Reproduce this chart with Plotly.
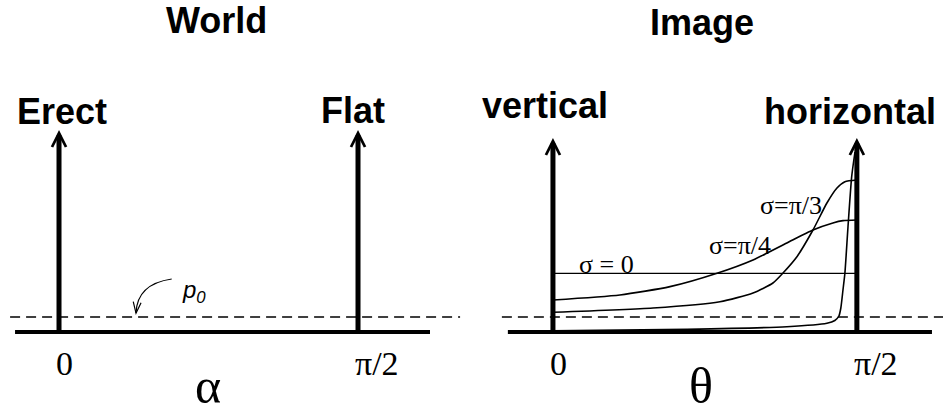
import numpy as np
import plotly.graph_objects as go

# figure size in px
W, H = 943, 409
HALF = np.pi / 2

# ---- data ----
p0 = 0.15  # prior density level (dashed line)

theta_s0 = [0.0, HALF]
dens_s0 = [0.587, 0.587]

theta_s45 = [0.0, 0.346, 0.605, 0.848, 1.034, 1.209, 1.344, 1.447, 1.499, 1.571]
dens_s45 = [0.32, 0.37, 0.453, 0.587, 0.72, 0.89, 1.02, 1.09, 1.113, 1.12]

theta_s60 = [0.0, 0.517, 0.863, 1.034, 1.137, 1.189, 1.261, 1.344, 1.416, 1.468, 1.509, 1.571]
dens_s60 = [0.197, 0.24, 0.303, 0.39, 0.49, 0.59, 0.753, 1.02, 1.29, 1.44, 1.503, 1.52]

theta_steep = [0.0, 0.693, 1.209, 1.416, 1.457, 1.478, 1.488, 1.499, 1.509, 1.525, 1.544, 1.561]
dens_steep = [0.013, 0.027, 0.053, 0.087, 0.115, 0.16, 0.24, 0.42, 0.59, 1.053, 1.553, 1.80]

tick_vals = [0.0, HALF]
tick_text = ["0", "\u03c0/2"]

# axis ranges chosen so the diagrams land where they sit in the picture
yr = [-0.77, 3.32]
xr_left = [-0.310, 2.167]
xr_right = [-0.421, 2.016]

fig = go.Figure()

# dashed p0 lines in both panels
fig.add_trace(go.Scatter(x=[-0.257, 2.107], y=[p0, p0], mode="lines",
                         line=dict(color="black", width=1.4, dash="10px,6px"),
                         xaxis="x", yaxis="y", hoverinfo="skip"))
fig.add_trace(go.Scatter(x=[-0.264, 2.02], y=[p0, p0], mode="lines",
                         line=dict(color="black", width=1.4, dash="10px,6px"),
                         xaxis="x2", yaxis="y", hoverinfo="skip"))

# image-side densities
for th, d, w in [(theta_s0, dens_s0, 1.3), (theta_s45, dens_s45, 1.7),
                 (theta_s60, dens_s60, 1.6), (theta_steep, dens_steep, 1.6)]:
    fig.add_trace(go.Scatter(x=th, y=d, mode="lines",
                             line=dict(color="black", width=w, shape="spline", smoothing=0.6),
                             xaxis="x2", yaxis="y", hoverinfo="skip"))

# baselines
fig.add_shape(type="line", xref="x", yref="y", x0=-0.231, x1=1.949, y0=0, y1=0,
              line=dict(color="black", width=4))
fig.add_shape(type="line", xref="x2", yref="y", x0=-0.233, x1=1.959, y0=0, y1=0,
              line=dict(color="black", width=4))

# curved pointer to p0
fig.add_shape(type="path", xref="x", yref="y",
              path="M 0.592,0.53 Q 0.41,0.48 0.4045,0.19",
              line=dict(color="black", width=1.2))
fig.add_shape(type="path", xref="x", yref="y",
              path="M 0.390,0.303 L 0.4045,0.187 L 0.431,0.293",
              line=dict(color="black", width=1.2))

ann = []
# vertical arrows (the spikes / axes)
for xa, xv, top in [("x", 0.0, 2.02), ("x", HALF, 2.02), ("x2", 0.0, 1.94), ("x2", HALF, 1.94)]:
    ann.append(dict(xref=xa, yref="y", axref=xa, ayref="y", x=xv, y=top, ax=xv, ay=-0.03,
                    text="", showarrow=True, arrowhead=5, arrowsize=0.55, arrowwidth=5,
                    arrowcolor="black"))

bold = dict(family="Liberation Sans", size=36, color="black")
def ptxt(text, px, py, font, **kw):
    ann.append(dict(xref="paper", yref="paper", x=px / W, y=1 - py / H, text=text,
                    showarrow=False, font=font, xanchor=kw.pop("xanchor", "center"),
                    yanchor="middle", **kw))

ptxt("<b>World</b>", 216, 21, bold)
ptxt("<b>Image</b>", 702, 22, bold)
ptxt("<b>Erect</b>", 62, 112, bold)
ptxt("<b>Flat</b>", 353, 110, bold)
ptxt("<b>vertical</b>", 545, 106, bold)
ptxt("<b>horizontal</b>", 850, 112, bold)

serif = dict(family="Liberation Serif", size=34, color="black")
for xa, xv, t in [("x", tick_vals[0], tick_text[0]), ("x", tick_vals[1], tick_text[1]),
                  ("x2", tick_vals[0], tick_text[0]), ("x2", tick_vals[1], tick_text[1])]:
    ann.append(dict(xref=xa, yref="y", x=xv, y=-0.31, text=t, showarrow=False,
                    font=serif, xanchor="left", yanchor="middle", xshift=-5))

big = dict(family="Liberation Serif", size=50, color="black")
ptxt("\u03b1", 208, 386, big)
ptxt("\u03b8", 701, 386, big)

lab = dict(family="Liberation Serif", size=26, color="black")
ptxt("\u03c3 = 0", 606, 264, lab)
ptxt("\u03c3=\u03c0/4", 740, 245, lab)
ptxt("\u03c3=\u03c0/3", 791, 205, lab)

ptxt("<i>p<sub>0</sub></i>", 194, 291, dict(family="Liberation Sans", size=24, color="black"))

axis_off = dict(showgrid=False, zeroline=False, showticklabels=False, showline=False, ticks="",
                fixedrange=True)
fig.update_layout(
    width=W, height=H,
    margin=dict(l=0, r=0, t=0, b=0),
    paper_bgcolor="white", plot_bgcolor="white",
    showlegend=False,
    xaxis=dict(domain=[0, 0.5], range=xr_left, **axis_off),
    xaxis2=dict(domain=[0.5, 1], range=xr_right, anchor="y", **axis_off),
    yaxis=dict(range=yr, **axis_off),
    annotations=ann,
)

# the page body has a default 8px margin; drop it so the figure sits at the window corner
fig.write_html("out.html", config={"displayModeBar": False},
               post_script="document.body.style.margin='0';")
